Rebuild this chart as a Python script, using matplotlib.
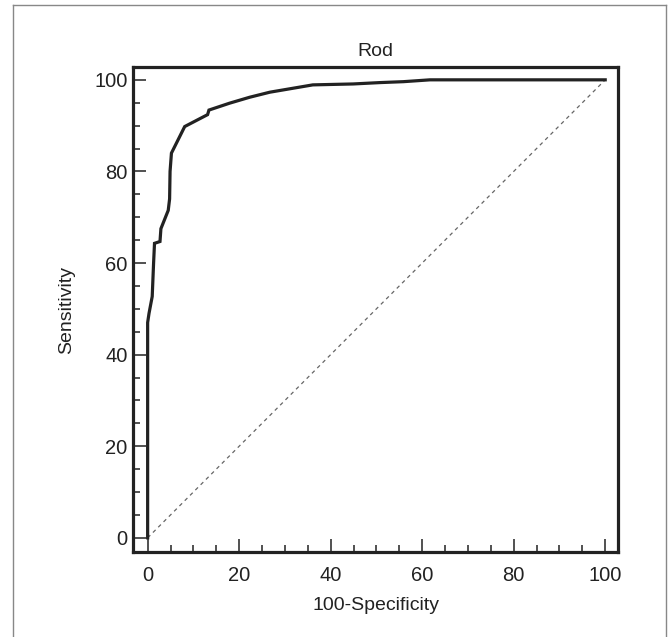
import matplotlib
matplotlib.use("Agg")
import matplotlib.pyplot as plt
from matplotlib.lines import Line2D
from matplotlib.ticker import MultipleLocator

plt.rcParams['font.family'] = ['Liberation Sans', 'DejaVu Sans']

# ROC curve points (100-Specificity, Sensitivity)
fpr = [0, 0, 0.3, 1.0, 1.3, 1.5, 2.7, 2.9, 4.5, 4.8, 4.9, 5.2, 8.1, 13.1, 13.4,
       17.9, 22.3, 26.7, 36.1, 44.9, 50.8, 55.9, 61.7, 100]
tpr = [0, 47, 49, 52.7, 60, 64.3, 64.7, 67.5, 71.5, 74, 80, 84, 89.8, 92.4, 93.4,
       94.9, 96.2, 97.3, 98.9, 99.1, 99.4, 99.6, 100, 100]
ref_line = [0, 100]

fig = plt.figure(figsize=(6.69, 6.37), dpi=100)
ax = fig.add_axes([0.1988, 0.1334, 0.725, 0.7614])

ax.plot(ref_line, ref_line, color='#666666', lw=0.9, ls=(0, (3, 3)))
ax.plot(fpr, tpr, color='#222222', lw=2.3, solid_joinstyle='miter')

ax.set_xlim(-3.2, 102.8)
ax.set_ylim(-3.1, 102.8)
ax.xaxis.set_major_locator(MultipleLocator(20))
ax.xaxis.set_minor_locator(MultipleLocator(5))
ax.yaxis.set_major_locator(MultipleLocator(20))
ax.yaxis.set_minor_locator(MultipleLocator(5))

for s in ax.spines.values():
    s.set_linewidth(2.3)
    s.set_color('#222222')

ax.tick_params(which='both', direction='in', color='#222222', width=1.1,
               labelsize=14.5, labelcolor='#222222')
ax.tick_params(which='major', length=9.5)
ax.tick_params(which='minor', length=5)
ax.tick_params(axis='x', which='major', pad=10)
ax.tick_params(axis='y', which='major', pad=4)

ax.set_title('Rod', fontsize=14, color='#222222', pad=8)
ax.set_xlabel('100-Specificity', fontsize=14, color='#222222')
ax.set_ylabel('Sensitivity', fontsize=14, color='#222222')
ax.xaxis.set_label_coords(0.5, -0.093)
ax.yaxis.set_label_coords(-0.12, 0.5)

# light outer frame around the figure
frame_kw = dict(color='#888888', lw=1.0, transform=fig.transFigure)
fig.add_artist(Line2D([0.0187, 0.0187], [0, 0.992], **frame_kw))
fig.add_artist(Line2D([0.0187, 0.9955], [0.992, 0.992], **frame_kw))
fig.add_artist(Line2D([0.9955, 0.9955], [0.992, 0], **frame_kw))

fig.savefig('out.png', dpi=100)
